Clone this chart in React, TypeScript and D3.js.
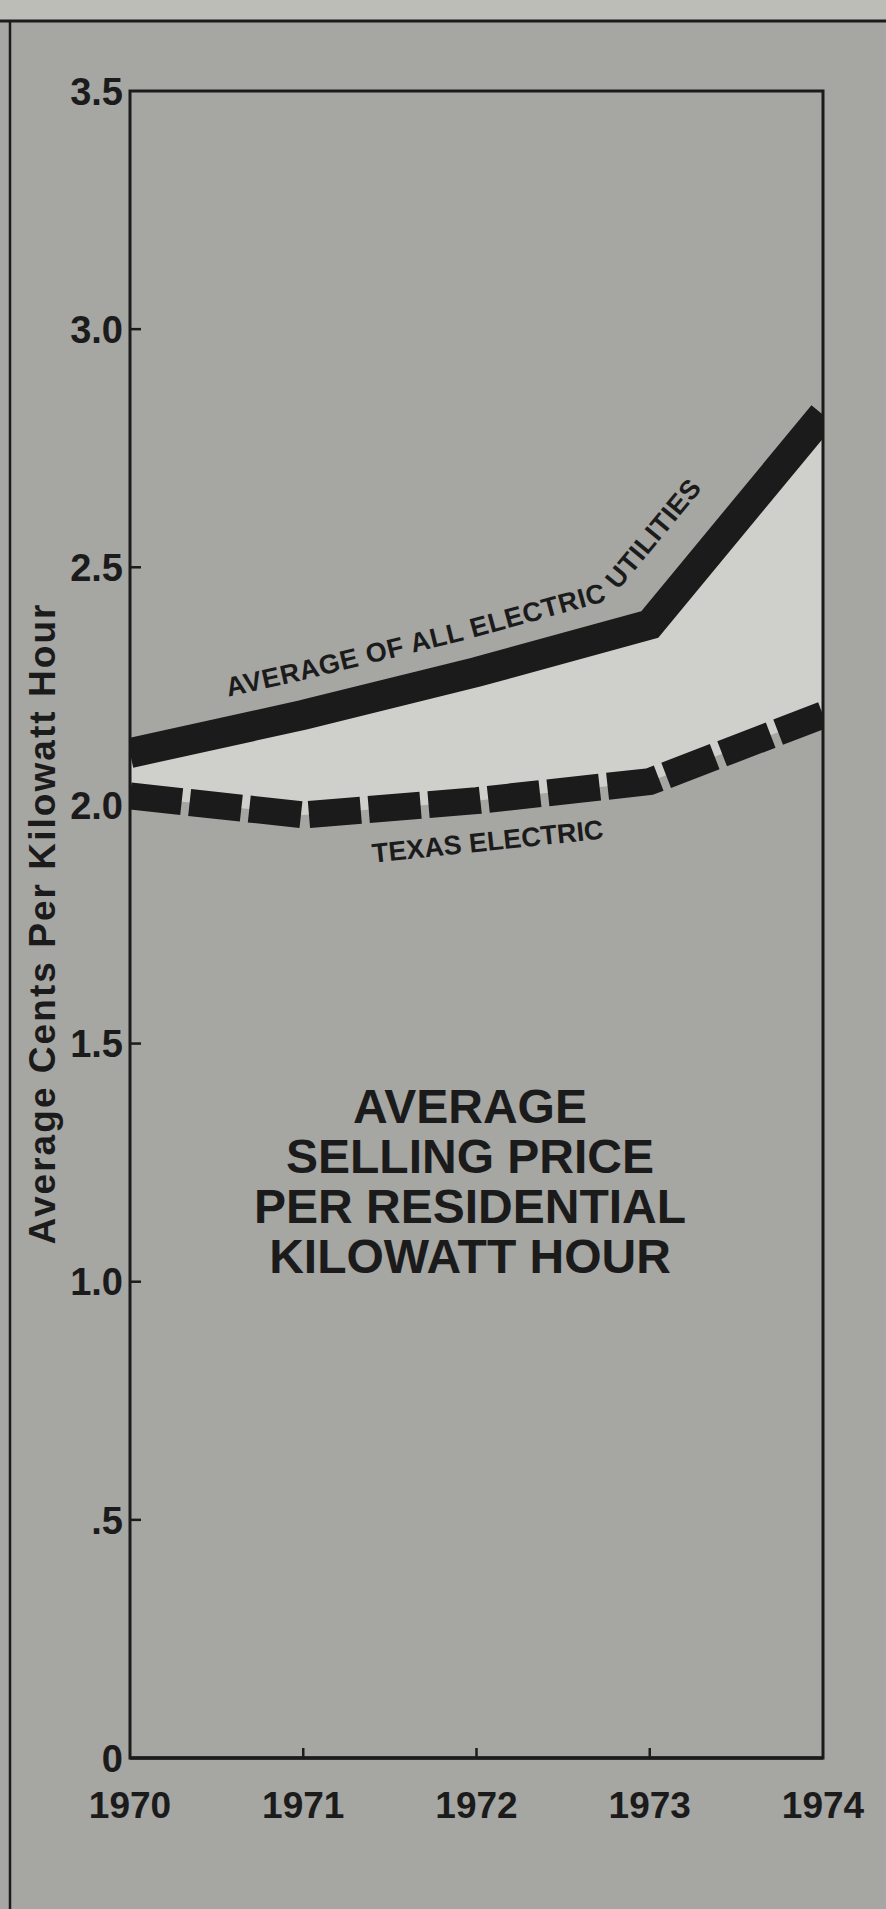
import React, { useEffect, useRef } from 'react';
import * as d3 from 'd3';

const years = [1970, 1971, 1972, 1973, 1974];
const allUtilities = [2.11, 2.19, 2.28, 2.38, 2.82];
const texasElectric = [2.02, 1.98, 2.01, 2.05, 2.19];
const yTicks = [0, 0.5, 1.0, 1.5, 2.0, 2.5, 3.0, 3.5];
const yTickLabels = ['0', '.5', '1.0', '1.5', '2.0', '2.5', '3.0', '3.5'];
const titleLines = ['AVERAGE', 'SELLING PRICE', 'PER RESIDENTIAL', 'KILOWATT HOUR'];
const yAxisTitle = 'Average Cents Per Kilowatt Hour';
const allLabelWords = ['AVERAGE OF ALL ELECTRIC', 'UTILITIES'];
const texasLabel = 'TEXAS ELECTRIC';

type Row = { year: number; all: number; tx: number };
type Pt = [number, number];

const FONT = '"Liberation Sans", Arial, Helvetica, sans-serif';
const INK = '#1b1b1b';

// shifts each segment of a polyline upwards (on screen) by its own distance,
// joining the shifted segments where they cross
function offsetPoints(pts: Pt[], dist: number[]): Pt[] {
  const segs = pts.slice(1).map((p, i) => {
    const q = pts[i];
    const len = Math.hypot(p[0] - q[0], p[1] - q[1]);
    const u: Pt = [(p[0] - q[0]) / len, (p[1] - q[1]) / len];
    const n: Pt = [u[1], -u[0]];
    const d = dist[i];
    return { a: [q[0] + n[0] * d, q[1] + n[1] * d] as Pt, b: [p[0] + n[0] * d, p[1] + n[1] * d] as Pt, u };
  });
  const cross = (v: Pt, w: Pt) => v[0] * w[1] - v[1] * w[0];
  const out: Pt[] = [segs[0].a];
  for (let i = 1; i < segs.length; i++) {
    const s1 = segs[i - 1];
    const s2 = segs[i];
    const t = cross([s2.a[0] - s1.a[0], s2.a[1] - s1.a[1]], s2.u) / cross(s1.u, s2.u);
    out.push([s1.a[0] + s1.u[0] * t, s1.a[1] + s1.u[1] * t]);
  }
  out.push(segs[segs.length - 1].b);
  return out;
}

const App: React.FC = () => {
  const svgRef = useRef<SVGSVGElement>(null);
  const width = 886;
  const height = 1909;

  useEffect(() => {
    if (!svgRef.current) return;
    const svg = d3.select(svgRef.current);
    svg.selectAll('*').remove();

    const margin = { top: 91, right: 63, bottom: 151, left: 130 };
    const rows: Row[] = years.map((yr, i) => ({ year: yr, all: allUtilities[i], tx: texasElectric[i] }));

    const x = d3.scaleLinear().domain([1970, 1974]).range([margin.left, width - margin.right]);
    const y = d3.scaleLinear().domain([0, 3.5]).range([height - margin.bottom, margin.top]);

    // paper background
    svg.append('rect').attr('width', width).attr('height', height).attr('fill', '#a6a6a3');
    svg.append('rect').attr('width', width).attr('height', 20).attr('fill', '#bdbdb8');
    svg.append('line')
      .attr('x1', 0).attr('x2', width).attr('y1', 21).attr('y2', 21)
      .attr('stroke', INK).attr('stroke-width', 3);
    svg.append('line')
      .attr('x1', 10).attr('x2', 10).attr('y1', 20).attr('y2', height)
      .attr('stroke', INK).attr('stroke-width', 2.5);

    const defs = svg.append('defs');
    defs.append('clipPath').attr('id', 'plot-clip')
      .append('rect')
      .attr('x', margin.left).attr('y', margin.top)
      .attr('width', width - margin.left - margin.right)
      .attr('height', height - margin.top - margin.bottom);

    const allLine = d3.line<Row>().x(d => x(d.year)).y(d => y(d.all));
    const txLine = d3.line<Row>().x(d => x(d.year)).y(d => y(d.tx));

    // label baseline runs above the solid line, a bit further off on the steep part
    const labelPts = offsetPoints(rows.map(d => [x(d.year), y(d.all)] as Pt), [34, 34, 34, 46]);
    defs.append('path').attr('id', 'all-label-path').attr('d', d3.line()(labelPts));

    const plot = svg.append('g').attr('clip-path', 'url(#plot-clip)');

    // gap between the two lines
    plot.append('path')
      .datum(rows)
      .attr('fill', '#cfcfcb')
      .attr('d', d3.area<Row>()
        .x(d => x(d.year))
        .y0(d => y(d.tx))
        .y1(d => y(d.all)));

    // average of all utilities
    plot.append('path')
      .datum(rows)
      .attr('fill', 'none')
      .attr('stroke', INK)
      .attr('stroke-width', 30)
      .attr('stroke-linejoin', 'miter')
      .attr('d', allLine);

    // Texas Electric
    plot.append('path')
      .datum(rows)
      .attr('fill', 'none')
      .attr('stroke', INK)
      .attr('stroke-width', 27)
      .attr('stroke-dasharray', '52,8')
      .attr('d', txLine);

    // frame
    svg.append('rect')
      .attr('x', margin.left).attr('y', margin.top)
      .attr('width', width - margin.left - margin.right)
      .attr('height', height - margin.top - margin.bottom)
      .attr('fill', 'none').attr('stroke', INK).attr('stroke-width', 3);
    svg.append('line')
      .attr('x1', margin.left).attr('x2', width - margin.right)
      .attr('y1', y(0)).attr('y2', y(0))
      .attr('stroke', INK).attr('stroke-width', 3.5);

    // ticks
    svg.append('g').selectAll('line').data(years.slice(1, -1)).join('line')
      .attr('x1', d => x(d)).attr('x2', d => x(d))
      .attr('y1', y(0)).attr('y2', y(0) - 10)
      .attr('stroke', INK).attr('stroke-width', 2.5);
    svg.append('g').selectAll('line').data(yTicks.slice(1, -1)).join('line')
      .attr('x1', margin.left).attr('x2', margin.left + 11)
      .attr('y1', d => y(d)).attr('y2', d => y(d))
      .attr('stroke', INK).attr('stroke-width', 2.5);

    // tick labels
    svg.append('g').selectAll('text').data(yTicks).join('text')
      .attr('x', margin.left - 7)
      .attr('y', d => y(d))
      .attr('dy', '0.36em')
      .attr('text-anchor', 'end')
      .attr('font-family', FONT).attr('font-weight', 'bold').attr('font-size', 38)
      .attr('fill', INK)
      .text((d, i) => yTickLabels[i]);

    svg.append('g').selectAll('text').data(years).join('text')
      .attr('x', d => x(d))
      .attr('y', y(0) + 60)
      .attr('text-anchor', 'middle')
      .attr('font-family', FONT).attr('font-weight', 'bold').attr('font-size', 37)
      .attr('fill', INK)
      .text(d => String(d));

    // y axis title
    svg.append('text')
      .attr('transform', `translate(55,${(y(0) + y(3.5)) / 2}) rotate(-90)`)
      .attr('text-anchor', 'middle')
      .attr('font-family', FONT).attr('font-weight', 'bold').attr('font-size', 37)
      .attr('textLength', 640).attr('lengthAdjust', 'spacing')
      .attr('fill', INK)
      .text(yAxisTitle);

    // line labels (the word gap sits on the bend, so it is set with dx)
    const tp = svg.append('text')
      .attr('font-family', FONT).attr('font-weight', 'bold').attr('font-size', 27)
      .attr('letter-spacing', 0.6)
      .attr('fill', INK)
      .append('textPath')
      .attr('href', '#all-label-path')
      .attr('startOffset', 108);
    tp.append('tspan').text(allLabelWords[0]);
    tp.append('tspan').attr('dx', 15).text(allLabelWords[1]);

    svg.append('text')
      .attr('transform', `translate(${x(1972.07)},${y(1.905)}) rotate(-6)`)
      .attr('text-anchor', 'middle')
      .attr('font-family', FONT).attr('font-weight', 'bold').attr('font-size', 27)
      .attr('fill', INK)
      .text(texasLabel);

    // title block
    svg.append('g').selectAll('text').data(titleLines).join('text')
      .attr('x', 470)
      .attr('y', (d, i) => 1123 + i * 50)
      .attr('text-anchor', 'middle')
      .attr('font-family', FONT).attr('font-weight', 'bold').attr('font-size', 48)
      .attr('fill', INK)
      .text(d => d);
  }, []);

  return (
    <svg
      ref={svgRef}
      width={width}
      height={height}
      style={{ position: 'absolute', left: 0, top: 0, display: 'block' }}
    />
  );
};

export default App;
